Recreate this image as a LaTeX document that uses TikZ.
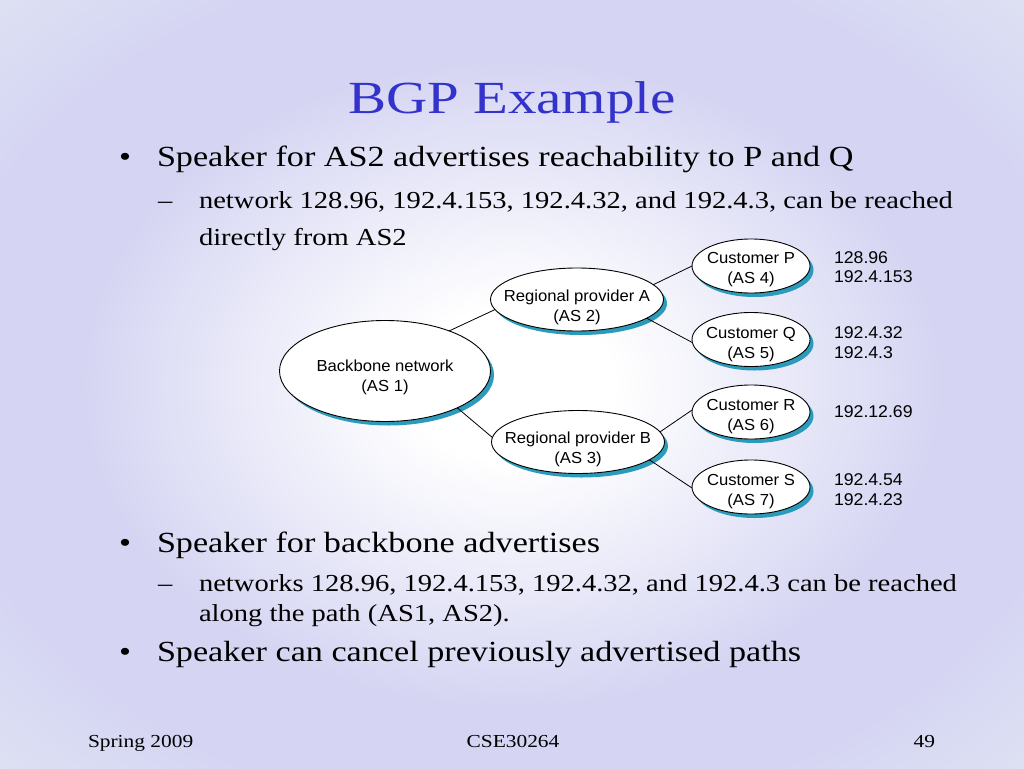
\documentclass[tikz,border=0pt]{standalone}
\usepackage{fontspec}
\setmainfont[FakeStretch=1.17]{Liberation Serif}
\newfontfamily\titlefont[FakeStretch=1.24]{Liberation Serif}
\newfontfamily\diagfont[FakeStretch=1.04]{Liberation Sans}
\usetikzlibrary{shapes.geometric,shadows}
\definecolor{titleblue}{HTML}{3333CC}
\definecolor{shadowteal}{HTML}{2A9BBA}
\definecolor{lav}{HTML}{D5D5F3}
\definecolor{pale}{HTML}{EEF5F2}
\definecolor{lavpale}{HTML}{DEE2F3}
\pgfdeclareradialshading{slidebg}{\pgfpoint{0bp}{0bp}}{color(0bp)=(white); color(5bp)=(white); color(21bp)=(lav); color(28bp)=(lav); color(36bp)=(lavpale); color(50bp)=(pale)}
\begin{document}
\begin{tikzpicture}[x=1pt,y=-1pt,
  every node/.style={inner sep=0pt, outer sep=0pt},
  bodytext/.style={anchor=base west, font=\fontsize{29.2}{34}\selectfont},
  subtext/.style={anchor=base west, font=\fontsize{24.4}{30}\selectfont},
  foot/.style={font=\fontsize{18.3}{20}\selectfont},
  asnode/.style={ellipse, draw=black, line width=0.9pt, fill=white,
    general shadow={shadow xshift=3.5pt, shadow yshift=-4pt, fill=shadowteal}},
  aslabel/.style={align=center, font=\diagfont\fontsize{16}{20}\selectfont},
  nets/.style={anchor=base west, font=\diagfont\fontsize{17}{20}\selectfont},
  link/.style={draw=black, line width=0.8pt}]
\shade[shading=slidebg] (0,0) rectangle (1024,768);
\useasboundingbox (0,0) rectangle (1024,768);

% title
\node[anchor=base, text=titleblue, font=\titlefont\fontsize{46}{50}\selectfont] (title) at (512,113) {BGP Example};

% upper text
\node[bodytext] (b1dot) at (119,166) {\textbullet};
\node[bodytext] (b1) at (157,166) {Speaker for AS2 advertises reachability to P and Q};
\node[subtext] (s1dash) at (158,208) {--};
\node[subtext] (s1a) at (199,208) {network 128.96, 192.4.153, 192.4.32, and 192.4.3, can be reached};
\node[subtext] (s1b) at (199,245) {directly from AS2};

% lower text
\node[bodytext] (b2dot) at (119,552) {\textbullet};
\node[bodytext] (b2) at (157,552) {Speaker for backbone advertises};
\node[subtext] (s2dash) at (158,591) {--};
\node[subtext] (s2a) at (199,591) {networks 128.96, 192.4.153, 192.4.32, and 192.4.3 can be reached};
\node[subtext] (s2b) at (199,621) {along the path (AS1, AS2).};
\node[bodytext] (b3dot) at (119,661) {\textbullet};
\node[bodytext] (b3) at (157,661) {Speaker can cancel previously advertised paths};

% footer
\node[foot, anchor=base west] (f1) at (88,747) {Spring 2009};
\node[foot, anchor=base] (f2) at (513,747) {CSE30264};
\node[foot, anchor=base east] (f3) at (935,747) {49};

% diagram ellipses
\node[asnode, minimum width=211pt, minimum height=101pt] (bb) at (385,371) {};
\node[asnode, minimum width=173pt, minimum height=63pt] (ra) at (577,299.5) {};
\node[asnode, minimum width=173pt, minimum height=63pt] (rb) at (578,442) {};
\node[asnode, minimum width=118pt, minimum height=54pt] (cp) at (751,266) {};
\node[asnode, minimum width=118pt, minimum height=54pt] (cq) at (751,339.5) {};
\node[asnode, minimum width=118pt, minimum height=54pt] (cr) at (751,412) {};
\node[asnode, minimum width=118pt, minimum height=54pt] (cs) at (751,487) {};

\node[aslabel] (bbt) at (385,377.5) {Backbone network\\(AS 1)};
\node[aslabel] (rat) at (577,307.5) {Regional provider A\\(AS 2)};
\node[aslabel] (rbt) at (578,449.5) {Regional provider B\\(AS 3)};
\node[aslabel] (cpt) at (751,270) {Customer P\\(AS 4)};
\node[aslabel] (cqt) at (751,344.5) {Customer Q\\(AS 5)};
\node[aslabel] (crt) at (751,417) {Customer R\\(AS 6)};
\node[aslabel] (cst) at (751,491.5) {Customer S\\(AS 7)};

% connectors
\draw[link] (bb.32) -- (ra.187);
\draw[link] (bb.-27) -- (rb.177);
\draw[link] (ra.11) -- (cp.180);
\draw[link] (ra.-15) -- (cq.183);
\draw[link] (rb.7) -- (cr.178);
\draw[link] (rb.-14) -- (cs.181);

% network numbers
\node[nets] (np1) at (834,263) {128.96};
\node[nets] (np2) at (834,282) {192.4.153};
\node[nets] (nq1) at (834,338) {192.4.32};
\node[nets] (nq2) at (834,358) {192.4.3};
\node[nets] (nr1) at (834,417) {192.12.69};
\node[nets] (ns1) at (834,485) {192.4.54};
\node[nets] (ns2) at (834,505) {192.4.23};
\end{tikzpicture}
\end{document}
